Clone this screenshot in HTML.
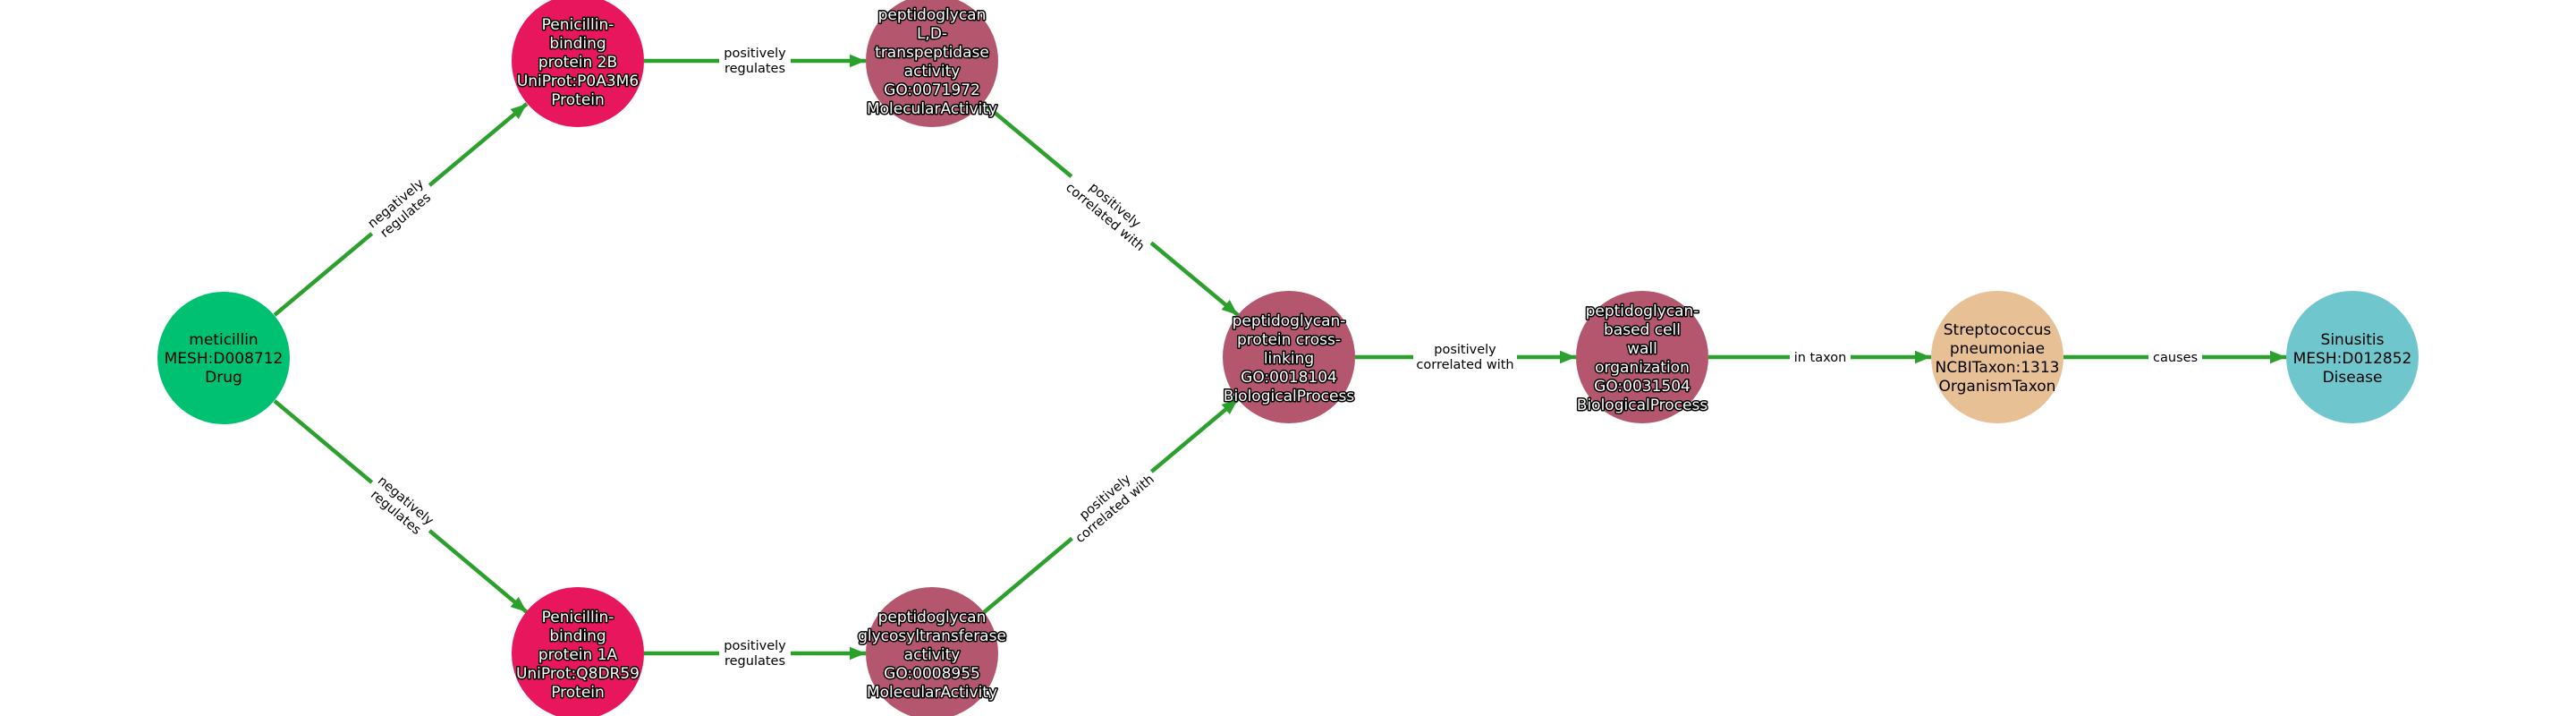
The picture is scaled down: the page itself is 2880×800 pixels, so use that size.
<!DOCTYPE html>
<html><head><meta charset="utf-8"><style>
body{margin:0;background:#fff}
svg{display:block}
.n{font-family:"DejaVu Sans","Liberation Sans",sans-serif;font-size:17px;text-anchor:middle}
.w{fill:#fff;stroke:#000;stroke-width:3px;paint-order:stroke;stroke-linejoin:round}
.b{fill:#000}
.l{font-family:"DejaVu Sans","Liberation Sans",sans-serif;font-size:14.5px;text-anchor:middle;fill:#000}
.e{stroke:#2ca02c;stroke-width:4.5;fill:none}
</style></head><body>
<svg width="2880" height="800" xmlns="http://www.w3.org/2000/svg">
<defs><marker id="a" viewBox="0 0 10 10" refX="10" refY="5" markerWidth="4" markerHeight="4" orient="auto" markerUnits="strokeWidth"><path d="M0,1 L10,5 L0,9 z" fill="#2ca02c"/></marker></defs>
<g marker-end="url(#a)">
<line class="e" x1="307" y1="352" x2="589" y2="116"/>
<line class="e" x1="307" y1="448" x2="589" y2="684"/>
<line class="e" x1="720" y1="68" x2="968" y2="68"/>
<line class="e" x1="720" y1="730" x2="968" y2="730"/>
<line class="e" x1="1099" y1="115" x2="1384" y2="352"/>
<line class="e" x1="1099" y1="685" x2="1384" y2="446"/>
<line class="e" x1="1515" y1="399" x2="1762" y2="399"/>
<line class="e" x1="1910" y1="399" x2="2159" y2="399"/>
<line class="e" x1="2307" y1="399" x2="2556" y2="399"/>
</g>
<g transform="translate(448,234) rotate(-40)"><rect x="-42" y="-20" width="84" height="40" fill="#fff"/><text class="l" y="-4">negatively</text><text class="l" y="13">regulates</text></g>
<g transform="translate(448,566) rotate(40)"><rect x="-42" y="-20" width="84" height="40" fill="#fff"/><text class="l" y="-4">negatively</text><text class="l" y="13">regulates</text></g>
<g transform="translate(844,68)"><rect x="-40" y="-20" width="80" height="40" fill="#fff"/><text class="l" y="-4">positively</text><text class="l" y="13">regulates</text></g>
<g transform="translate(844,730)"><rect x="-40" y="-20" width="80" height="40" fill="#fff"/><text class="l" y="-4">positively</text><text class="l" y="13">regulates</text></g>
<g transform="translate(1241,236) rotate(40)"><rect x="-58" y="-20" width="116" height="40" fill="#fff"/><text class="l" y="-4">positively</text><text class="l" y="13">correlated with</text></g>
<g transform="translate(1241,562) rotate(-40)"><rect x="-58" y="-20" width="116" height="40" fill="#fff"/><text class="l" y="-4">positively</text><text class="l" y="13">correlated with</text></g>
<g transform="translate(1638,399)"><rect x="-58" y="-20" width="116" height="40" fill="#fff"/><text class="l" y="-4">positively</text><text class="l" y="13">correlated with</text></g>
<g transform="translate(2035,399)"><rect x="-34" y="-12" width="68" height="24" fill="#fff"/><text class="l" y="5">in taxon</text></g>
<g transform="translate(2432,399)"><rect x="-30" y="-12" width="60" height="24" fill="#fff"/><text class="l" y="5">causes</text></g>
<circle cx="250" cy="400" r="74" fill="#00c171"/>
<text class="n b" x="250" y="385">meticillin</text><text class="n b" x="250" y="406">MESH:D008712</text><text class="n b" x="250" y="427">Drug</text>
<circle cx="646" cy="68" r="74" fill="#e8175d"/>
<text class="n w" x="646" y="33">Penicillin-</text><text class="n w" x="646" y="54">binding</text><text class="n w" x="646" y="75">protein 2B</text><text class="n w" x="646" y="96">UniProt:P0A3M6</text><text class="n w" x="646" y="117">Protein</text>
<circle cx="646" cy="730" r="74" fill="#e8175d"/>
<text class="n w" x="646" y="695">Penicillin-</text><text class="n w" x="646" y="716">binding</text><text class="n w" x="646" y="737">protein 1A</text><text class="n w" x="646" y="758">UniProt:Q8DR59</text><text class="n w" x="646" y="779">Protein</text>
<circle cx="1042" cy="68" r="74" fill="#b5566f"/>
<text class="n w" x="1042" y="22">peptidoglycan</text><text class="n w" x="1042" y="43">L,D-</text><text class="n w" x="1042" y="64">transpeptidase</text><text class="n w" x="1042" y="85">activity</text><text class="n w" x="1042" y="106">GO:0071972</text><text class="n w" x="1042" y="127">MolecularActivity</text>
<circle cx="1042" cy="730" r="74" fill="#b5566f"/>
<text class="n w" x="1042" y="695">peptidoglycan</text><text class="n w" x="1042" y="716">glycosyltransferase</text><text class="n w" x="1042" y="737">activity</text><text class="n w" x="1042" y="758">GO:0008955</text><text class="n w" x="1042" y="779">MolecularActivity</text>
<circle cx="1441" cy="399" r="74" fill="#b5566f"/>
<text class="n w" x="1441" y="364">peptidoglycan-</text><text class="n w" x="1441" y="385">protein cross-</text><text class="n w" x="1441" y="406">linking</text><text class="n w" x="1441" y="427">GO:0018104</text><text class="n w" x="1441" y="448">BiologicalProcess</text>
<circle cx="1836" cy="399" r="74" fill="#b5566f"/>
<text class="n w" x="1836" y="353">peptidoglycan-</text><text class="n w" x="1836" y="374">based cell</text><text class="n w" x="1836" y="395">wall</text><text class="n w" x="1836" y="416">organization</text><text class="n w" x="1836" y="437">GO:0031504</text><text class="n w" x="1836" y="458">BiologicalProcess</text>
<circle cx="2233" cy="399" r="74" fill="#e8c096"/>
<text class="n b" x="2233" y="374">Streptococcus</text><text class="n b" x="2233" y="395">pneumoniae</text><text class="n b" x="2233" y="416">NCBITaxon:1313</text><text class="n b" x="2233" y="437">OrganismTaxon</text>
<circle cx="2630" cy="399" r="74" fill="#6fc6cc"/>
<text class="n b" x="2630" y="385">Sinusitis</text><text class="n b" x="2630" y="406">MESH:D012852</text><text class="n b" x="2630" y="427">Disease</text>
</svg>
</body></html>
